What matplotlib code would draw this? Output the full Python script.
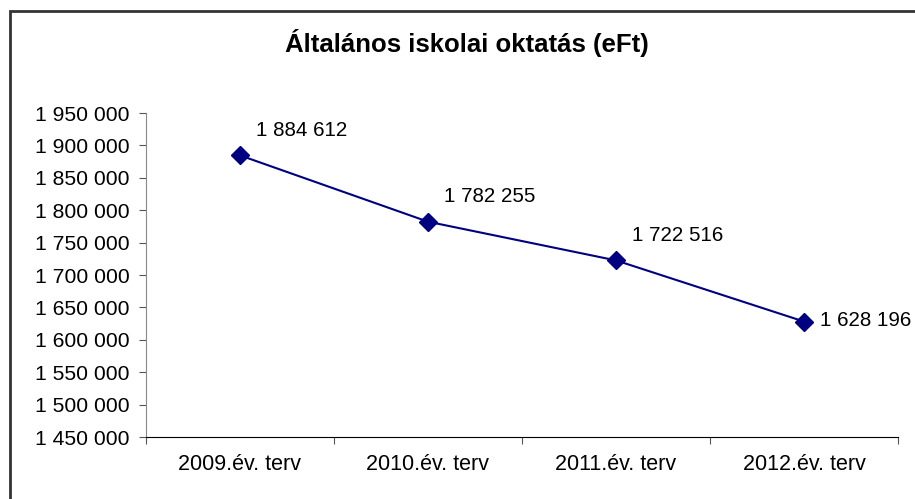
import matplotlib.pyplot as plt
from matplotlib.patches import Rectangle
from matplotlib.ticker import FuncFormatter

categories = ["2009.év. terv", "2010.év. terv", "2011.év. terv", "2012.év. terv"]
values = [1884612, 1782255, 1722516, 1628196]
label_offsets = [(16, 25), (16, 25), (16, 25), (16, 1)]

plt.rcParams["font.family"] = ["Liberation Sans", "DejaVu Sans"]

fig = plt.figure(figsize=(9.15, 4.99), dpi=100)
ax = fig.add_axes([146 / 915, 1 - 437 / 499, (898 - 146) / 915, (437 - 113) / 499])

# chart frame (only top and left edges fall inside the picture)
fig.patches.append(Rectangle((10 / 915, -0.1), 1.2, 1 - 11 / 499 + 0.1,
                             transform=fig.transFigure, fill=False,
                             edgecolor="#333333", linewidth=2))

x = list(range(len(categories)))
ax.plot(x, values, color="#000080", linewidth=1.5, marker="D",
        markersize=9, markerfacecolor="#000080", markeredgecolor="#000080")

for xi, v, (dx, dy) in zip(x, values, label_offsets):
    txt = f"{v:,}".replace(",", " ")
    ax.annotate(txt, (xi, v), xytext=(dx * 0.72, dy * 0.72), textcoords="offset points",
                ha="left", va="center", fontsize=14.8)

ax.set_xlim(-0.5, len(categories) - 0.5)
ax.set_ylim(1450000, 1950000)
ax.set_yticks(range(1450000, 1950001, 50000))
ax.yaxis.set_major_formatter(FuncFormatter(lambda v, p: f"{int(v):,}".replace(",", " ")))
ax.set_xticks([i - 0.5 for i in range(len(categories) + 1)])
ax.set_xticklabels([])
ax.set_xticks(x, minor=True)
ax.set_xticklabels(categories, minor=True)
ax.tick_params(axis="x", which="minor", length=0, pad=12, labelsize=15.5)
ax.tick_params(axis="x", which="major", length=5, direction="out", color="#555555")
ax.tick_params(axis="y", length=5, direction="out", pad=7, labelsize=15.2, color="#555555")

ax.spines["top"].set_visible(False)
ax.spines["right"].set_visible(False)
ax.spines["left"].set_color("#888888")
ax.spines["bottom"].set_color("black")

fig.text(467 / 915, 1 - 43 / 499, "Általános iskolai oktatás (eFt)", ha="center",
         va="center", fontsize=18.5, fontweight="bold")

fig.savefig("out.png", dpi=100)
